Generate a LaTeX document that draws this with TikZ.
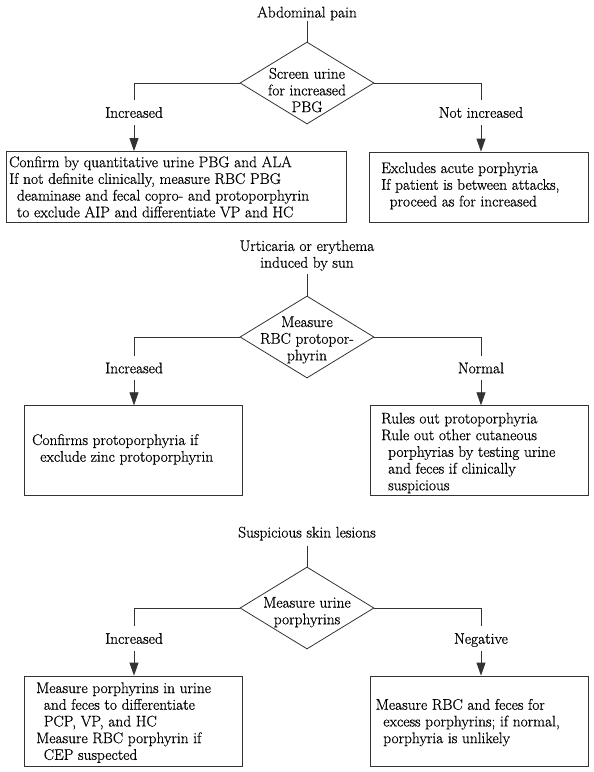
\documentclass[tikz,border=0pt]{standalone}
\usepackage{fontspec}
\setmainfont{Latin Modern Roman}[FakeBold=0.6]
\usetikzlibrary{shapes.geometric,arrows.meta}
\begin{document}
\begin{tikzpicture}[x=1pt,y=-1pt,
  every node/.style={font=\fontsize{15.4}{16.7}\selectfont, text=black},
  ln/.style={line width=0.8pt, draw=black!80},
  dia/.style={diamond, draw=black!80, line width=0.8pt, minimum width=134pt, minimum height=82pt, inner sep=0pt},
  boxn/.style={draw=black!80, line width=0.8pt, inner sep=0pt},
  txt/.style={align=left, inner sep=0pt, anchor=west},
  dtxt/.style={align=center, inner sep=0pt},
  lbl/.style={inner xsep=0pt, inner ysep=7pt, text height=10.5pt, text depth=0pt},
  arr/.style={ln, -{Triangle[length=13pt,width=9pt]}}
]
\useasboundingbox (0,0) rectangle (594,772);

% ---------- Section 1 ----------
\node[inner xsep=0pt, inner ysep=0pt] (t1) at (307,13.5) {Abdominal pain};
\node[dia] (d1) at (307,83) {};
\node[dtxt] (d1t) at (307,90.1) {Screen urine\\for increased\\PBG};
\node[lbl] (l1a) at (134,112.5) {Increased};
\node[lbl] (l1b) at (481,112.5) {Not increased};
\node[boxn, minimum width=339.5pt, minimum height=70.5pt] (b1L) at (176.25,186.75) {};
\node[boxn, minimum width=219pt, minimum height=70pt] (b1R) at (478.5,187) {};
\node[txt] (b1Lt) at (9,186.9) {Confirm by quantitative urine PBG and ALA\\If not definite clinically, measure RBC PBG\\\hspace*{7.7pt}deaminase and fecal copro- and protoporphyrin\\\hspace*{7.7pt}to exclude AIP and differentiate VP and HC};
\node[txt] (b1Rt) at (381,185.9) {Excludes acute porphyria\\If patient is between attacks,\\\hspace*{8.5pt}proceed as for increased};
\draw[ln] (t1.south) -- (d1.north);
\draw[ln] (d1.west) -| (l1a.north);
\draw[ln] (d1.east) -| (l1b.north);
\draw[arr] (l1a.south) -- (l1a.south |- b1L.north);
\draw[arr] (l1b.south) -- (l1b.south |- b1R.north);

% ---------- Section 2 ----------
\node[align=center, inner xsep=0pt, inner ysep=3.5pt] (t2) at (307,255.5) {Urticaria or erythema\\induced by sun};
\node[dia] (d2) at (307,337) {};
\node[dtxt] (d2t) at (307,340) {Measure\\RBC protopor-\\phyrin};
\node[lbl] (l2a) at (134,368) {Increased};
\node[lbl] (l2b) at (481,368) {Normal};
\node[boxn, minimum width=218.5pt, minimum height=89.3pt] (b2L) at (133.25,450.35) {};
\node[boxn, minimum width=217.3pt, minimum height=89.3pt] (b2R) at (479.35,450.35) {};
\node[txt] (b2Lt) at (32,449.5) {Confirms protoporphyria if\\\hspace*{8pt}exclude zinc protoporphyrin};
\node[txt] (b2Rt) at (381,453) {Rules out protoporphyria\\Rule out other cutaneous\\\hspace*{7pt}porphyrias by testing urine\\\hspace*{7pt}and feces if clinically\\\hspace*{7pt}suspicious};
\draw[ln] (t2.south) -- (d2.north);
\draw[ln] (d2.west) -| (l2a.north);
\draw[ln] (d2.east) -| (l2b.north);
\draw[arr] (l2a.south) -- (l2a.south |- b2L.north);
\draw[arr] (l2b.south) -- (l2b.south |- b2R.north);

% ---------- Section 3 ----------
\node[inner xsep=0pt, inner ysep=5pt] (t3) at (307,533.6) {Suspicious skin lesions};
\node[dia] (d3) at (307,608) {};
\node[dtxt] (d3t) at (307,612.2) {Measure urine\\porphyrins};
\node[lbl] (l3a) at (134,638.5) {Increased};
\node[lbl] (l3b) at (481,638.5) {Negative};
\node[boxn, minimum width=218.7pt, minimum height=90pt] (b3L) at (133.35,721) {};
\node[boxn, minimum width=217.8pt, minimum height=90pt] (b3R) at (479.6,721) {};
\node[txt] (b3Lt) at (36,722.6) {Measure porphyrins in urine\\\hspace*{7.6pt}and feces to differentiate\\\hspace*{7.6pt}PCP, VP, and HC\\Measure RBC porphyrin if\\\hspace*{7.6pt}CEP suspected};
\node[txt] (b3Rt) at (375.6,722.6) {Measure RBC and feces for\\\hspace*{7.5pt}excess porphyrins; if normal,\\\hspace*{7.5pt}porphyria is unlikely};
\draw[ln] (t3.south) -- (d3.north);
\draw[ln] (d3.west) -| (l3a.north);
\draw[ln] (d3.east) -| (l3b.north);
\draw[arr] (l3a.south) -- (l3a.south |- b3L.north);
\draw[arr] (l3b.south) -- (l3b.south |- b3R.north);
\end{tikzpicture}
\end{document}
